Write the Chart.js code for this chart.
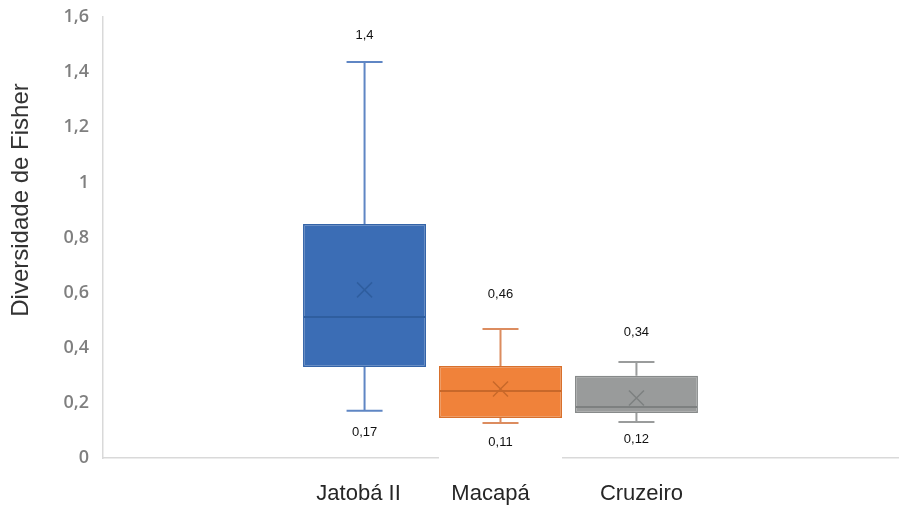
<!DOCTYPE html>
<html>
<head>
<meta charset="utf-8">
<script src="https://cdn.jsdelivr.net/npm/chart.js@4/dist/chart.umd.min.js"></script>
<style>
  html, body { margin:0; padding:0; background:#fff; }
  #wrap { width:899px; height:508px; position:relative; }
</style>
</head>
<body>
<div id="wrap"><canvas id="box"></canvas></div>
<script>
// ---- data ----
var sites   = ['Jatobá II', 'Macapá', 'Cruzeiro'];
var minV    = [0.171, 0.127, 0.131];
var q1V     = [0.330, 0.145, 0.163];
var medV    = [0.512, 0.243, 0.185];
var meanV   = [0.610, 0.250, 0.218];
var q3V     = [0.849, 0.334, 0.298];
var maxV    = [1.437, 0.468, 0.348];
var maxText = ['1,4', '0,46', '0,34'];
var minText = ['0,17', '0,11', '0,12'];
var yTicks  = [0, 0.2, 0.4, 0.6, 0.8, 1, 1.2, 1.4, 1.6];

// ---- styles ----
var FILL   = ['#3b6db5', '#f0823a', '#999b9b'];
var EDGE   = ['#3464a8', '#d8702c', '#878a8a'];
var INNER  = ['#2f5e9f', '#c8682a', '#7d8080'];
var WHISK  = ['#5f86c4', '#dc8c5f', '#9a9c9c'];
var maxGap = [27, 35, 30];
var minGap = [22, 19, 18];
var nameNudge = [-6, -10, 5];

function comma(v){ return String(v).replace('.', ','); }

var boxPlugin = {
  id: 'boxParts',
  afterDatasetsDraw: function(chart){
    var ctx = chart.ctx, y = chart.scales.y;
    ctx.save();
    sites.forEach(function(name, i){
      var bar = chart.getDatasetMeta(i).data[0];
      var cx = bar.x, w = bar.width, cap = 36;
      // whiskers
      ctx.strokeStyle = WHISK[i]; ctx.lineWidth = 2;
      ctx.beginPath();
      ctx.moveTo(cx, y.getPixelForValue(q3V[i])); ctx.lineTo(cx, y.getPixelForValue(maxV[i]));
      ctx.moveTo(cx - cap/2, y.getPixelForValue(maxV[i])); ctx.lineTo(cx + cap/2, y.getPixelForValue(maxV[i]));
      ctx.moveTo(cx, y.getPixelForValue(q1V[i])); ctx.lineTo(cx, y.getPixelForValue(minV[i]));
      ctx.moveTo(cx - cap/2, y.getPixelForValue(minV[i])); ctx.lineTo(cx + cap/2, y.getPixelForValue(minV[i]));
      ctx.stroke();
      // median
      var my = y.getPixelForValue(medV[i]);
      ctx.strokeStyle = INNER[i]; ctx.lineWidth = 2;
      ctx.beginPath(); ctx.moveTo(cx - w/2 + 1, my); ctx.lineTo(cx + w/2 - 1, my); ctx.stroke();
      // mean marker
      var ay = y.getPixelForValue(meanV[i]), r = 7.5;
      ctx.lineWidth = 1.5;
      ctx.beginPath();
      ctx.moveTo(cx - r, ay - r); ctx.lineTo(cx + r, ay + r);
      ctx.moveTo(cx + r, ay - r); ctx.lineTo(cx - r, ay + r);
      ctx.stroke();
    });
    ctx.restore();
  },
  afterDraw: function(chart){
    var ctx = chart.ctx, y = chart.scales.y, area = chart.chartArea;
    ctx.save();
    sites.forEach(function(name, i){
      var bar = chart.getDatasetMeta(i).data[0];
      var cx = bar.x, w = bar.width;
      var ty = y.getPixelForValue(maxV[i]) - maxGap[i];
      var by = y.getPixelForValue(minV[i]) + minGap[i];
      // Macapá's text box sits on the axis and hides it
      if (i === 1) { ctx.fillStyle = '#fff'; ctx.fillRect(cx - w/2, by - 10, w, area.bottom - by + 13); }
      ctx.fillStyle = '#111';
      ctx.font = '13px "Liberation Sans", Arial, sans-serif';
      ctx.textAlign = 'center'; ctx.textBaseline = 'middle';
      ctx.fillText(maxText[i], cx, ty);
      ctx.fillText(minText[i], cx, by);
      // site names under the axis
      ctx.fillStyle = '#262626';
      ctx.font = '22px "Liberation Sans", Arial, sans-serif';
      ctx.fillText(name, cx + nameNudge[i], 494);
    });
    // y axis title
    ctx.translate(21, 200);
    ctx.rotate(-Math.PI/2);
    ctx.fillStyle = '#333';
    ctx.font = '24px "Liberation Sans", Arial, sans-serif';
    ctx.textAlign = 'center'; ctx.textBaseline = 'middle';
    ctx.fillText('Diversidade de Fisher', 0, 0);
    ctx.restore();
  }
};

var datasets = sites.map(function(name, i){
  return {
    label: name,
    data: [[q1V[i], q3V[i]]],
    backgroundColor: FILL[i],
    borderColor: EDGE[i],
    borderWidth: 1.5,
    borderSkipped: false,
    categoryPercentage: 0.513,
    barPercentage: 0.905
  };
});

new Chart(document.getElementById('box'), {
  type: 'bar',
  data: { labels: [''], datasets: datasets },
  options: {
    responsive: true, maintainAspectRatio: false, animation: false,
    layout: { padding: { top: 17, right: 1, bottom: 50, left: 0 } },
    plugins: { legend: { display: false }, tooltip: { enabled: false } },
    scales: {
      x: {
        grid: { display: false, drawTicks: false },
        border: { display: true, color: '#d9d9d9', width: 1.5 },
        ticks: { display: false },
        afterFit: function(s){ s.height = 0; }
      },
      y: {
        min: 0, max: 1.6,
        afterBuildTicks: function(s){ s.ticks = yTicks.map(function(v){ return { value: v }; }); },
        grid: { display: false, drawTicks: false },
        border: { display: true, color: '#d9d9d9', width: 1.5 },
        ticks: {
          color: '#7f7f7f', padding: 14,
          font: { family: 'Open Sans', size: 18, weight: '600' },
          callback: function(v){ return comma(v); }
        },
        afterFit: function(s){ s.width = 103; s.paddingTop = 0; s.paddingBottom = 0; }
      }
    }
  },
  plugins: [boxPlugin]
});
</script>
</body>
</html>
